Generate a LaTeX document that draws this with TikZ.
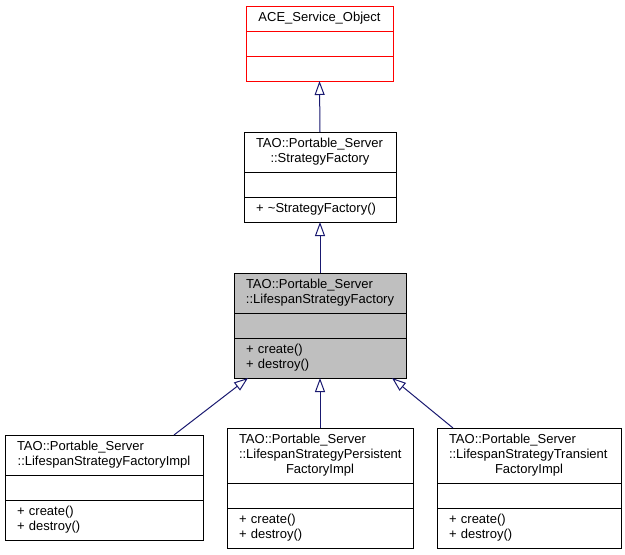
\documentclass[tikz,border=0pt]{standalone}
\usepackage{fontspec}
\setmainfont{Liberation Sans}
\usetikzlibrary{positioning,arrows.meta}
\definecolor{edgeblue}{HTML}{191970}
\definecolor{basegray}{HTML}{BFBFBF}
\newcommand{\clsline}[1]{\makebox[\linewidth]{#1}}

\begin{document}
\begin{tikzpicture}[
    x=1pt,
    y=1pt,
    cls/.style={draw=black, line width=1pt, outer sep=0pt,
      inner xsep=12pt, inner ysep=0pt, minimum height=25pt,
      text width=#1, align=left, font=\fontsize{13}{15}\selectfont,
      execute at begin node=\strut, execute at end node=\strut},
    focus/.style={fill=basegray},
    base/.style={draw=red},
    inherit/.style={draw=edgeblue, line width=1pt,
      -{Triangle[open, length=14pt, width=10pt]}},
    node distance=0pt
]
\useasboundingbox (0,0) rectangle (625,-555);
% base classes
\node[cls=123, base, anchor=north west] (ace) at (246,-6) {\clsline{ACE\_Service\_Object}};
\node[cls=123, base, below=of ace] (acea) {};
\node[cls=123, base, below=of acea] (aceo) {};
\node[cls=128, minimum height=40pt, anchor=north west] (sf) at (244,-132)
  {TAO::Portable\_Server\\\clsline{::StrategyFactory}};
\node[cls=128, below=of sf] (sfa) {};
\node[cls=128, below=of sfa] (sfo) {+ \textasciitilde{}StrategyFactory()};
% the class itself
\node[cls=148, focus, minimum height=40pt, anchor=north west] (lsf) at (234,-273)
  {TAO::Portable\_Server\\\clsline{::LifespanStrategyFactory}};
\node[cls=148, focus, below=of lsf] (lsfa) {};
\node[cls=148, focus, minimum height=40pt, below=of lsfa] (lsfo) {+ create()\\+ destroy()};
% derived classes
\node[cls=174, minimum height=40pt, anchor=north west] (bl) at (5,-435)
  {TAO::Portable\_Server\\\clsline{::LifespanStrategyFactoryImpl}};
\node[cls=174, below=of bl] (bla) {};
\node[cls=174, minimum height=40pt, below=of bla] (blo) {+ create()\\+ destroy()};
\node[cls=162, minimum height=55pt, anchor=north west] (mid) at (227,-428)
  {TAO::Portable\_Server\\::LifespanStrategyPersistent\\\clsline{FactoryImpl}};
\node[cls=162, below=of mid] (mida) {};
\node[cls=162, minimum height=40pt, below=of mida] (mido) {+ create()\\+ destroy()};
\node[cls=160, minimum height=55pt, anchor=north west] (rt) at (437,-428)
  {TAO::Portable\_Server\\::LifespanStrategyTransient\\\clsline{FactoryImpl}};
\node[cls=160, below=of rt] (rta) {};
\node[cls=160, minimum height=40pt, below=of rta] (rto) {+ create()\\+ destroy()};
\path
  (sf.north) edge[inherit] (aceo.south)
  (lsf.north) edge[inherit] (sfo.south)
  ([xshift=70pt]bl.north) edge[inherit] ([xshift=-72pt]lsfo.south)
  (mid.north) edge[inherit] (lsfo.south)
  ([xshift=-76pt]rt.north) edge[inherit] ([xshift=72pt]lsfo.south);
\end{tikzpicture}
\end{document}
